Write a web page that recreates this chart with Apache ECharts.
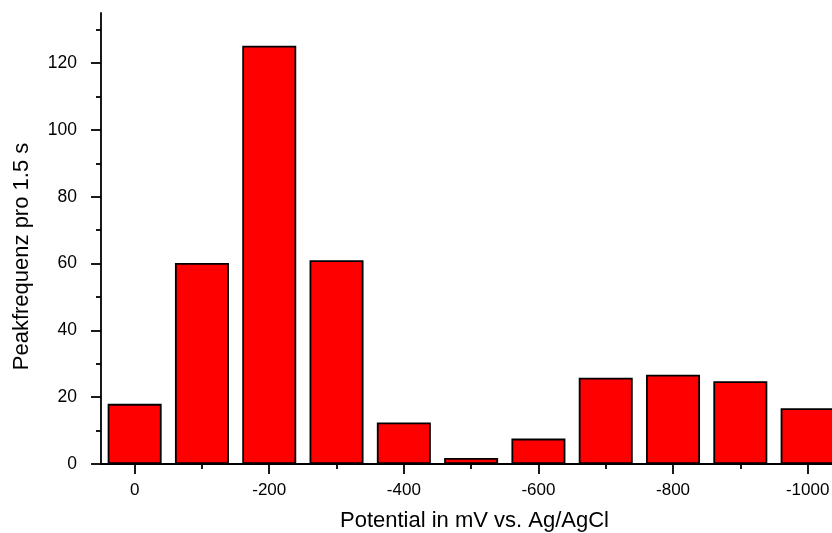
<!DOCTYPE html>
<html><head><meta charset="utf-8">
<script src="https://cdn.jsdelivr.net/npm/echarts@6/dist/echarts.min.js"></script>
<style>html,body{margin:0;padding:0;background:#fff}#c{width:832px;height:533px}</style>
</head><body><div id="c"></div>
<script>
const potentials = [0, -100, -200, -300, -400, -500, -600, -700, -800, -900, -1000];
const peakFreq = [18, 60.2, 125.2, 61, 12.4, 1.8, 7.6, 25.8, 26.7, 24.8, 16.7];
const xMajorTicks = [0, -200, -400, -600, -800, -1000];
const xMinorTicks = [-100, -300, -500, -700, -900];
const yMajorTicks = [0, 20, 40, 60, 80, 100, 120];
const yMinorTicks = [10, 30, 50, 70, 90, 110, 130];
const xTitle = 'Potential in mV vs. Ag/AgCl';
const yTitle = 'Peakfrequenz pro 1.5 s';

const font = 'Liberation Sans, Arial, Helvetica, sans-serif';
const axisLine = {show: true, onZero: false, lineStyle: {color: '#000', width: 1.8}};
const chart = echarts.init(document.getElementById('c'));
chart.setOption({
  animation: false,
  backgroundColor: '#fff',
  grid: {left: 101, top: 13, bottom: 69, right: -16, containLabel: false, outerBoundsMode: 'none'},
  xAxis: [{
    type: 'value', inverse: true, min: -1060, max: 50,
    axisLine: axisLine,
    axisTick: {show: true, inside: false, length: 10, customValues: xMajorTicks, lineStyle: {color: '#000', width: 1.8}},
    axisLabel: {show: true, customValues: xMajorTicks, margin: 18, fontSize: 17, color: '#000', fontFamily: font,
      formatter: v => String(v)},
    splitLine: {show: false},
    name: xTitle, nameLocation: 'middle', nameGap: 46,
    nameTextStyle: {fontSize: 22, color: '#000', fontFamily: font}
  }, {
    type: 'value', inverse: true, min: -1060, max: 50, position: 'bottom',
    axisLine: {show: false, onZero: false},
    axisTick: {show: true, length: 5, customValues: xMinorTicks, lineStyle: {color: '#000', width: 1.8}},
    axisLabel: {show: false}, splitLine: {show: false}
  }],
  yAxis: [{
    type: 'value', min: 0, max: 135,
    axisLine: axisLine,
    axisTick: {show: true, length: 10, customValues: yMajorTicks, lineStyle: {color: '#000', width: 1.8}},
    axisLabel: {show: true, customValues: yMajorTicks, margin: 24, fontSize: 17.5, color: '#000', fontFamily: font},
    splitLine: {show: false},
    name: yTitle, nameLocation: 'middle', nameGap: 68, nameRotate: 90,
    nameTextStyle: {fontSize: 22, color: '#000', fontFamily: font, padding: [0, 36, 0, 0]}
  }, {
    type: 'value', min: 0, max: 135, position: 'left',
    axisLine: {show: false, onZero: false},
    axisTick: {show: true, length: 5, customValues: yMinorTicks, lineStyle: {color: '#000', width: 1.8}},
    axisLabel: {show: false}, splitLine: {show: false}
  }],
  series: [{
    type: 'bar', xAxisIndex: 0, yAxisIndex: 0,
    barWidth: 54,
    data: potentials.map((p, i) => [p, peakFreq[i]]),
    itemStyle: {color: '#ff0000', borderColor: '#000', borderWidth: 1.8}
  }]
});
</script></body></html>
